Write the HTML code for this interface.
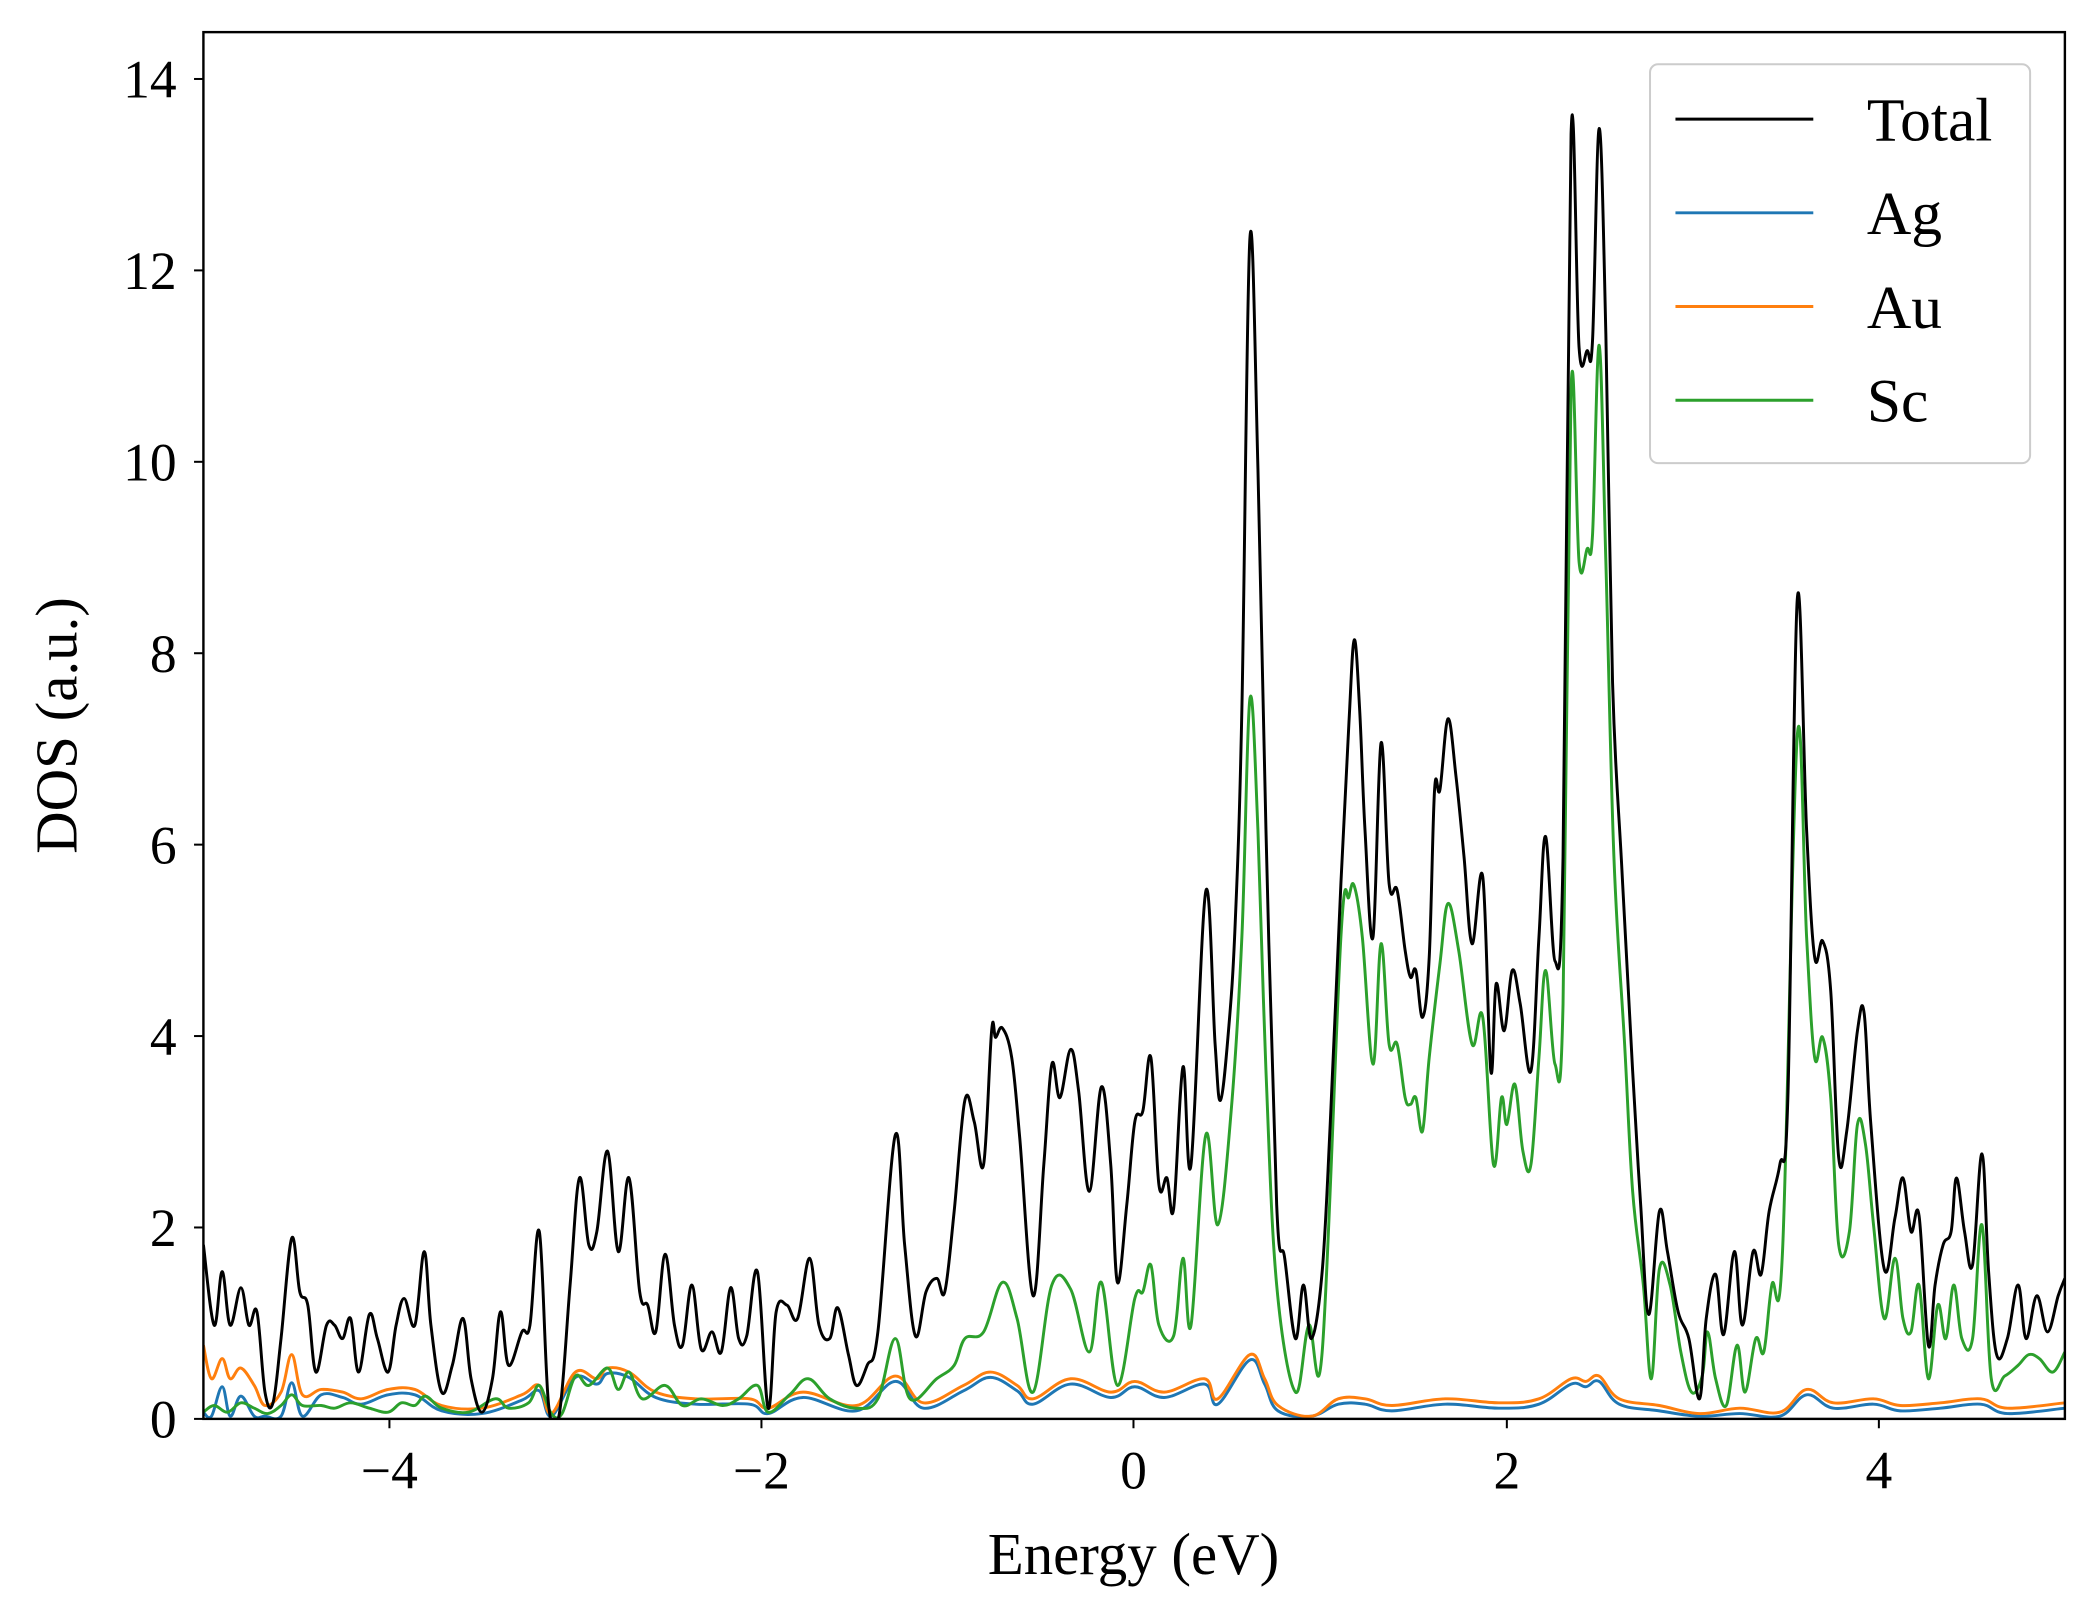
<!DOCTYPE html>
<html><head><meta charset="utf-8"><style>
html,body{margin:0;padding:0;background:#fff;}
svg{display:block;font-family:"Liberation Serif",serif;}
</style></head><body>
<svg id="s" width="2097" height="1617" viewBox="0 0 1567 1208" preserveAspectRatio="none" xmlns="http://www.w3.org/2000/svg">
<rect width="1567" height="1208" fill="#fff"/>
<defs><clipPath id="c"><rect x="152" y="24" width="1391" height="1036"/></clipPath></defs>
<g clip-path="url(#c)" fill="none" stroke-width="2.2" stroke-linejoin="round">
<path id="ag" stroke="#1f77b4"/>
<path id="au" stroke="#ff7f0e"/>
<path id="sc" stroke="#2ca02c"/>
<path id="tot" stroke="#000"/>
</g>
<rect x="152" y="24" width="1391" height="1036" fill="none" stroke="#000" stroke-width="1.8"/>
<g stroke="#000" stroke-width="1.5">
<line x1="291" y1="1060" x2="291" y2="1067"/><line x1="569" y1="1060" x2="569" y2="1067"/><line x1="847" y1="1060" x2="847" y2="1067"/><line x1="1126" y1="1060" x2="1126" y2="1067"/><line x1="1404" y1="1060" x2="1404" y2="1067"/>
<line x1="145" y1="1060" x2="152" y2="1060"/><line x1="145" y1="917" x2="152" y2="917"/><line x1="145" y1="774" x2="152" y2="774"/><line x1="145" y1="631" x2="152" y2="631"/><line x1="145" y1="488" x2="152" y2="488"/><line x1="145" y1="345" x2="152" y2="345"/><line x1="145" y1="202" x2="152" y2="202"/><line x1="145" y1="59" x2="152" y2="59"/>
</g>
<g font-size="40" fill="#000" text-anchor="middle">
<text x="291" y="1112">−4</text><text x="569" y="1112">−2</text><text x="847" y="1112">0</text><text x="1126" y="1112">2</text><text x="1404" y="1112">4</text>
</g>
<g font-size="40" fill="#000" text-anchor="end">
<text x="132" y="1074">0</text><text x="132" y="931">2</text><text x="132" y="788">4</text><text x="132" y="645">6</text><text x="132" y="502">8</text><text x="132" y="359">10</text><text x="132" y="216">12</text><text x="132" y="73">14</text>
</g>
<text x="847" y="1176" font-size="44" text-anchor="middle">Energy (eV)</text>
<text transform="translate(57,542) rotate(-90)" font-size="44" text-anchor="middle">DOS (a.u.)</text>
<rect x="1233" y="48" width="284" height="298" rx="6" fill="#fff" stroke="#ccc" stroke-width="1.5"/>
<g stroke-width="2.2">
<line x1="1252" y1="89" x2="1355" y2="89" stroke="#000"/>
<line x1="1252" y1="159" x2="1355" y2="159" stroke="#1f77b4"/>
<line x1="1252" y1="229" x2="1355" y2="229" stroke="#ff7f0e"/>
<line x1="1252" y1="299" x2="1355" y2="299" stroke="#2ca02c"/>
</g>
<g font-size="46" fill="#000">
<text x="1395" y="105">Total</text><text x="1395" y="175">Ag</text><text x="1395" y="245">Au</text><text x="1395" y="315">Sc</text>
</g>
</svg>
<script>
function P(a){var p=[];for(var i=0;i<a.length;i+=2)p.push([a[i],a[i+1]]);return p;}
function smooth(p){var d="M"+p[0][0]+","+p[0][1];for(var i=0;i<p.length-1;i++){var p0=p[i-1]||p[i],p1=p[i],p2=p[i+1],p3=p[i+2]||p2;var t=0.18;d+=" C"+(p1[0]+(p2[0]-p0[0])*t)+","+(p1[1]+(p2[1]-p0[1])*t)+" "+(p2[0]-(p3[0]-p1[0])*t)+","+(p2[1]-(p3[1]-p1[1])*t)+" "+p2[0]+","+p2[1];}return d;}
var tot=P([152,930,160,990,166,950,172,990,180,962,186,990,192,980,198,1040,204,1048,210,1000,218,925,224,965,230,975,236,1025,244,990,250,990,256,1000,262,985,268,1025,276,982,282,1000,290,1025,296,990,302,970,310,990,317,935,322,990,330,1040,338,1020,346,985,352,1030,360,1055,368,1030,374,980,380,1020,390,995,396,990,403,920,410,1050,418,1056,426,960,433,880,440,930,446,920,454,860,462,935,470,880,478,965,484,975,490,995,497,937,504,990,510,1005,517,960,524,1008,532,995,539,1010,546,962,552,1000,558,998,566,950,574,1052,580,980,588,975,596,985,605,940,612,990,620,1000,626,977,634,1012,640,1035,648,1020,656,995,669,848,676,930,684,998,692,965,700,955,706,965,713,905,721,822,728,838,735,870,741,770,744,775,749,768,756,790,762,850,772,968,780,870,786,795,792,820,800,784,806,815,814,890,823,812,830,870,835,958,842,900,848,838,854,830,860,790,866,885,872,880,877,903,884,797,890,870,901,666,908,780,912,822,918,770,923,690,928,530,934,178,940,350,946,620,954,900,960,940,968,1000,974,960,980,1000,988,950,994,840,1002,660,1008,540,1012,478,1016,530,1020,620,1026,700,1032,555,1038,660,1044,665,1050,710,1054,730,1058,725,1063,760,1068,715,1072,590,1076,590,1082,537,1088,580,1094,640,1100,705,1108,655,1114,800,1118,735,1124,770,1130,725,1136,750,1144,800,1150,700,1155,625,1162,718,1168,640,1174,100,1180,260,1186,262,1190,255,1195,96,1200,250,1205,510,1212,650,1220,800,1226,900,1232,982,1240,905,1246,935,1254,980,1262,1000,1270,1045,1275,985,1282,952,1288,997,1296,935,1302,990,1310,935,1316,952,1322,905,1330,870,1336,820,1343,448,1350,620,1356,715,1362,703,1368,740,1374,865,1380,845,1388,770,1393,757,1398,840,1408,948,1416,910,1422,880,1428,920,1434,908,1441,1005,1446,960,1452,930,1458,920,1462,880,1468,920,1474,945,1481,862,1486,950,1492,1012,1500,1000,1508,960,1514,1000,1522,968,1530,995,1538,968,1543,955]);
var sc=P([152,1055,160,1050,170,1055,180,1048,190,1052,200,1056,210,1050,218,1042,226,1050,240,1050,250,1052,262,1048,276,1052,290,1055,300,1048,310,1050,318,1043,330,1052,350,1055,370,1045,380,1052,395,1048,403,1035,412,1056,420,1056,430,1028,440,1035,454,1022,462,1038,470,1025,480,1045,497,1035,510,1050,524,1045,540,1050,552,1045,566,1035,574,1055,590,1042,604,1030,620,1045,640,1052,656,1045,669,1000,680,1045,700,1030,713,1020,721,1000,735,995,749,958,760,985,772,1040,786,960,800,963,814,1010,823,958,835,1035,848,970,854,965,860,945,866,990,877,998,884,940,890,990,901,848,910,915,920,830,928,700,934,522,940,620,946,800,954,960,968,1040,978,990,988,1010,1002,700,1008,670,1012,662,1018,700,1026,795,1032,705,1038,780,1044,780,1050,820,1054,825,1058,820,1063,845,1068,790,1076,720,1082,675,1090,710,1100,780,1108,760,1116,870,1122,820,1126,840,1132,810,1138,860,1144,870,1150,790,1155,725,1162,795,1168,750,1174,290,1180,420,1186,410,1190,400,1195,258,1200,420,1206,640,1214,780,1220,890,1228,960,1234,1030,1240,948,1248,960,1256,1010,1264,1040,1272,1028,1276,995,1282,1030,1290,1050,1298,1005,1304,1040,1312,1000,1318,1010,1324,960,1332,935,1343,550,1350,700,1356,790,1362,775,1368,820,1374,930,1382,920,1388,840,1394,855,1400,915,1408,985,1416,940,1422,985,1428,995,1434,960,1441,1030,1448,975,1454,1000,1460,960,1466,1000,1474,1000,1481,915,1488,1030,1498,1028,1508,1020,1516,1012,1524,1015,1534,1025,1543,1010]);
var au=P([152,1005,158,1030,166,1015,172,1030,180,1022,190,1035,198,1050,210,1040,218,1012,226,1042,240,1038,256,1040,270,1045,290,1038,310,1038,330,1050,360,1052,390,1042,403,1035,412,1056,430,1025,446,1030,454,1022,470,1025,490,1040,520,1045,560,1045,574,1052,600,1040,640,1050,669,1028,690,1048,720,1035,740,1025,760,1035,772,1045,800,1030,830,1040,848,1032,870,1040,900,1030,910,1045,934,1012,945,1030,955,1050,980,1058,1000,1045,1020,1045,1040,1050,1080,1045,1120,1048,1150,1045,1174,1030,1185,1032,1195,1028,1210,1045,1240,1050,1270,1056,1300,1052,1330,1055,1350,1038,1370,1048,1400,1045,1420,1050,1450,1048,1480,1045,1500,1052,1543,1048]);
var ag=au.map(function(p,i){var y=p[1]+4;if(p[0]<240)y=p[1]+25+(i%2?4:-4);if(p[0]>960&&p[0]<1000)y=p[1];return [p[0],Math.min(y,1058)];});
ag[0]=[152,1055];
document.getElementById('tot').setAttribute('d',smooth(tot));
document.getElementById('sc').setAttribute('d',smooth(sc));
document.getElementById('au').setAttribute('d',smooth(au));
document.getElementById('ag').setAttribute('d',smooth(ag));
</script>
</body></html>
